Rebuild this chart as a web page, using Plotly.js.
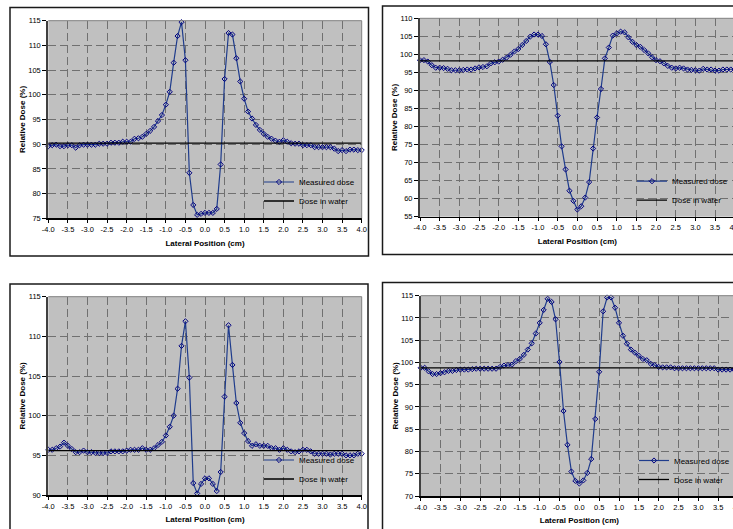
<!DOCTYPE html>
<html>
<head>
<meta charset="utf-8">
<script src="https://cdn.plot.ly/plotly-3.0.1.min.js"></script>
<style>
  html, body { margin: 0; padding: 0; overflow: hidden; background: #fff; }
  #chart { width: 760px; height: 529px; }
</style>
</head>
<body>
<div id="chart"></div>
<script>
// Lateral position of each measurement point (cm)
const lateralPosition = [
  -4.0, -3.9, -3.8, -3.7, -3.6, -3.5, -3.4, -3.3, -3.2, -3.1,
  -3.0, -2.9, -2.8, -2.7, -2.6, -2.5, -2.4, -2.3, -2.2, -2.1,
  -2.0, -1.9, -1.8, -1.7, -1.6, -1.5, -1.4, -1.3, -1.2, -1.1,
  -1.0, -0.9, -0.8, -0.7, -0.6, -0.5, -0.4, -0.3, -0.2, -0.1,
   0.0,  0.1,  0.2,  0.3,  0.4,  0.5,  0.6,  0.7,  0.8,  0.9,
   1.0,  1.1,  1.2,  1.3,  1.4,  1.5,  1.6,  1.7,  1.8,  1.9,
   2.0,  2.1,  2.2,  2.3,  2.4,  2.5,  2.6,  2.7,  2.8,  2.9,
   3.0,  3.1,  3.2,  3.3,  3.4,  3.5,  3.6,  3.7,  3.8,  3.9,
   4.0
];

// Axis tick positions and their labels
const xTickVals = [-4.0, -3.5, -3.0, -2.5, -2.0, -1.5, -1.0, -0.5, 0.0, 0.5, 1.0, 1.5, 2.0, 2.5, 3.0, 3.5, 4.0];
const xTickText = ["-4.0", "-3.5", "-3.0", "-2.5", "-2.0", "-1.5", "-1.0", "-0.5", "0.0", "0.5", "1.0", "1.5", "2.0", "2.5", "3.0", "3.5", "4.0"];

// Measured relative dose (%), one profile per panel
const measuredDoseA = [
  89.6, 89.8, 89.9, 89.6, 89.6, 89.8, 89.8, 89.3, 89.8, 89.9,
  89.9, 89.9, 89.9, 90.1, 90.1, 90.1, 90.3, 90.3, 90.3, 90.5,
  90.5, 90.5, 91.1, 91.2, 91.5, 92.1, 92.7, 93.5, 94.7, 95.9,
  98.0, 100.6, 106.5, 111.9, 114.7, 107.0, 84.2, 77.7, 75.7, 75.9,
  76.1, 76.1, 76.1, 76.9, 85.9, 103.2, 112.5, 112.2, 107.4, 102.7,
  99.2, 96.6, 95.2, 93.9, 92.9, 92.1, 91.5, 91.1, 90.7, 90.5,
  90.8, 90.5, 90.2, 90.1, 90.1, 89.8, 89.8, 89.8, 89.4, 89.4,
  89.4, 89.4, 89.4, 89.1, 88.6, 88.8, 88.6, 88.9, 88.9, 88.8,
  88.8
];
const measuredDoseB = [
  98.4, 98.4, 98.0, 97.0, 96.3, 96.3, 96.2, 96.0, 95.6, 95.6,
  95.6, 95.7, 95.8, 95.8, 96.1, 96.4, 96.5, 96.7, 97.5, 97.8,
  98.0, 98.5, 99.1, 99.9, 100.8, 101.5, 102.6, 103.7, 104.9, 105.5,
  105.5, 105.1, 102.8, 97.9, 91.5, 83.0, 74.5, 68.1, 62.2, 59.4,
  57.0, 57.9, 60.3, 64.6, 73.9, 82.5, 90.4, 98.9, 101.9, 105.2,
  105.8, 106.3, 106.1, 104.7, 103.5, 102.6, 102.1, 101.2, 100.3, 99.2,
  98.4, 98.1, 97.5, 96.8, 96.3, 96.1, 96.3, 96.1, 95.8, 95.7,
  95.6, 95.5, 96.0, 95.8, 95.8, 95.5, 95.5, 95.8, 95.8, 95.8,
  95.9
];
const measuredDoseC = [
  95.7, 95.7, 95.9, 96.1, 96.6, 96.2, 95.8, 95.4, 95.4, 95.6,
  95.4, 95.4, 95.3, 95.3, 95.3, 95.3, 95.5, 95.5, 95.5, 95.5,
  95.6, 95.7, 95.7, 95.7, 95.9, 95.7, 95.7, 95.9, 96.3, 96.7,
  97.5, 98.6, 100.0, 103.4, 108.8, 111.9, 104.8, 91.5, 90.2, 91.4,
  92.1, 92.1, 91.4, 90.5, 92.9, 102.4, 111.4, 106.4, 101.6, 99.1,
  97.8, 96.8, 96.2, 96.4, 96.2, 96.2, 96.2, 95.9, 95.9, 95.7,
  95.9, 95.7, 95.5, 95.4, 95.5, 95.7, 95.7, 95.5, 95.2, 95.2,
  95.2, 95.2, 95.1, 95.2, 95.2, 95.2, 95.0, 95.0, 95.0, 95.2,
  95.2
];
const measuredDoseD = [
  98.8, 98.8, 98.0, 97.4, 97.4, 97.6, 97.8, 98.1, 98.1, 98.3,
  98.4, 98.4, 98.4, 98.5, 98.6, 98.6, 98.6, 98.6, 98.6, 98.6,
  99.0, 99.3, 99.4, 99.5, 100.3, 100.8, 101.7, 102.9, 104.3, 106.5,
  108.9, 111.8, 114.3, 113.6, 109.7, 100.1, 89.1, 81.5, 75.5, 73.4,
  72.8, 73.5, 75.2, 78.3, 87.3, 97.9, 111.5, 114.6, 114.6, 112.3,
  108.9, 106.0, 104.2, 102.9, 102.2, 101.5, 100.8, 100.5, 99.7, 99.4,
  99.0, 98.9, 98.9, 98.9, 98.7, 98.7, 98.7, 98.7, 98.7, 98.7,
  98.7, 98.7, 98.7, 98.7, 98.7, 98.4, 98.4, 98.4, 98.4, 98.4,
  98.4
];

// Reference dose level in water (%), one per panel
const waterDoseA = 90.2;
const waterDoseB = 98.2;
const waterDoseC = 95.6;
const waterDoseD = 98.8;

// Value axis ranges per panel
const yRangeA = [75, 115];
const yRangeB = [55, 110];
const yRangeC = [90, 115];
const yRangeD = [70, 115];

// ---- layout helpers (pixel boxes converted to paper fractions) ----
const W = 760, H = 529;
const xd = (a, b) => [a / W, b / W];
const yd = (top, bottom) => [1 - bottom / H, 1 - top / H];

const FONT = 'Liberation Sans, Arial, sans-serif';

const panels = [
  { measured: measuredDoseA, water: waterDoseA, yRange: yRangeA,
    plotX: [48.3, 361.7], plotY: [20.7, 218.3], frame: [10, 7.5, 368.5, 256],
    legendAt: [259, 191.5] },
  { measured: measuredDoseB, water: waterDoseB, yRange: yRangeB,
    plotX: [420, 734.7], plotY: [18.3, 216.7], frame: [382.5, 6, 770, 254.5],
    legendAt: [632, 190.7] },
  { measured: measuredDoseC, water: waterDoseC, yRange: yRangeC,
    plotX: [48.3, 361.7], plotY: [296.7, 495], frame: [10, 284, 368, 545],
    legendAt: [259, 469.5] },
  { measured: measuredDoseD, water: waterDoseD, yRange: yRangeD,
    plotX: [420.7, 738], plotY: [295.7, 496], frame: [382.5, 282.5, 770, 545],
    legendAt: [634, 470] }
];

const traces = [];
const layout = {
  width: W, height: H,
  margin: { l: 0, r: 0, t: 0, b: 0 },
  paper_bgcolor: '#ffffff',
  plot_bgcolor: '#c0c0c0',
  font: { family: FONT, color: '#000' },
  shapes: []
};

panels.forEach((p, i) => {
  const n = i + 1;
  const sfx = n === 1 ? '' : String(n);
  const xa = 'x' + sfx, ya = 'y' + sfx;
  const lg = 'legend' + sfx;

  traces.push({
    type: 'scatter', mode: 'lines+markers', name: 'Measured dose',
    x: lateralPosition, y: p.measured,
    xaxis: xa, yaxis: ya, legend: lg,
    line: { color: '#1f3c8c', width: 1.2 },
    marker: { symbol: 'diamond-open', size: 4, color: '#000080', line: { width: 1, color: '#000080' } },
    cliponaxis: false
  });
  traces.push({
    type: 'scatter', mode: 'lines', name: 'Dose in water',
    x: lateralPosition, y: lateralPosition.map(() => p.water),
    xaxis: xa, yaxis: ya, legend: lg,
    line: { color: '#000000', width: 1.3 }
  });

  layout['xaxis' + sfx] = {
    domain: xd(p.plotX[0], p.plotX[1]), anchor: ya,
    range: [-4, 4], tickmode: 'array', tickvals: xTickVals, ticktext: xTickText,
    ticks: 'outside', ticklen: 3, tickwidth: 1, tickcolor: '#000',
    showline: true, linecolor: '#000', linewidth: 1.5,
    showgrid: true, gridcolor: '#707070', gridwidth: 1, griddash: '8px,4px',
    zeroline: false, fixedrange: true,
    tickfont: { family: FONT, size: 7.5, color: '#000' },
    title: { text: 'Lateral Position (cm)', font: { family: FONT, size: 8, weight: 'bold', color: '#000' }, standoff: 7 }
  };
  layout['yaxis' + sfx] = {
    domain: yd(p.plotY[0], p.plotY[1]), anchor: xa,
    range: p.yRange, dtick: 5, tick0: 0,
    ticks: 'outside', ticklen: 4, tickwidth: 1, tickcolor: '#000',
    showline: true, linecolor: '#404040', linewidth: 2,
    showgrid: true, gridcolor: '#707070', gridwidth: 1, griddash: '8px,4px',
    zeroline: false, fixedrange: true,
    tickfont: { family: FONT, size: 7.5, color: '#000' },
    title: { text: 'Relative Dose (%)', font: { family: FONT, size: 8, weight: 'bold', color: '#000' }, standoff: 1 }
  };
  layout[lg] = {
    x: p.legendAt[0] / W, y: 1 - p.legendAt[1] / H,
    xanchor: 'left', yanchor: 'middle',
    bgcolor: 'rgba(0,0,0,0)', borderwidth: 0,
    itemwidth: 30, tracegroupgap: 0,
    font: { family: FONT, size: 8, color: '#000' }
  };

  // plot-area border on the top and right edges
  layout.shapes.push({ type: 'line', xref: xa + ' domain', yref: ya + ' domain', x0: 0, x1: 1, y0: 1, y1: 1, line: { color: '#808080', width: 1 } });
  layout.shapes.push({ type: 'line', xref: xa + ' domain', yref: ya + ' domain', x0: 1, x1: 1, y0: 0, y1: 1, line: { color: '#808080', width: 1 } });
  // chart-area frame
  const f = p.frame;
  layout.shapes.push({ type: 'rect', xref: 'paper', yref: 'paper',
    x0: f[0] / W, x1: f[2] / W, y0: 1 - f[3] / H, y1: 1 - f[1] / H,
    line: { color: '#1a1a1a', width: 1.5 }, fillcolor: 'rgba(0,0,0,0)', layer: 'below' });
});

Plotly.newPlot('chart', traces, layout, { displayModeBar: false, staticPlot: true });
</script>
</body>
</html>
